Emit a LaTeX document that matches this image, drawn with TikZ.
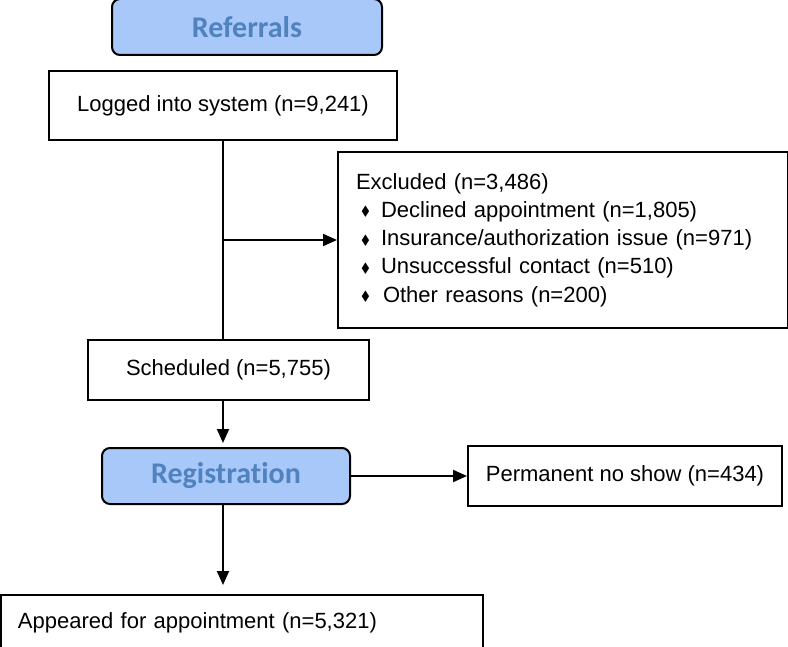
\documentclass[tikz,border=0pt]{standalone}
\usepackage{fontspec}
\usepackage{amssymb}
\setmainfont{Liberation Sans}
\newfontfamily\stagefont[Ligatures=NoCommon]{Carlito}
\usetikzlibrary{positioning,arrows.meta}

\definecolor{stagefill}{RGB}{168,200,250}
\definecolor{stagetext}{RGB}{80,130,190}
\newcommand{\dia}{\raisebox{0.8pt}{\scalebox{0.6}{$\blacklozenge$}}}
\newcommand{\reason}[1]{\hspace*{2.5pt}\makebox[10pt][l]{\dia}#1}

\tikzset{
  flowbox/.style={draw,rectangle,line width=1pt,inner sep=0pt,
    font=\fontsize{11}{14.15}\selectfont},
  stagebox/.style={draw,rectangle,rounded corners=4pt,line width=1pt,inner sep=0pt,
    fill=stagefill,text=stagetext,font=\stagefont\bfseries\fontsize{15}{18}\selectfont},
  flowarrow/.style={-{Triangle[length=7pt,width=6pt]},line width=1pt},
}

\begin{document}
\begin{tikzpicture}
    \useasboundingbox (0,0) rectangle (394pt,-323.5pt);

    \node[flowbox,minimum width=174pt,minimum height=34.5pt] (logged) at (111.5pt,-52.75pt) {\raisebox{2pt}{Logged into system (n=9,241)}};
    \node[stagebox,minimum width=135pt,minimum height=28pt,above=7pt of logged,xshift=12pt] (refer) {Referrals};

    \coordinate[below=49.5pt of logged] (split);
    \node[flowbox,minimum width=225pt,minimum height=88pt,text width=207pt,align=left,right=57pt of split] (excl) {Excluded (n=3,486)\\
      \reason{Declined appointment (n=1,805)}\\
      \reason{Insurance/authorization issue (n=971)}\\
      \reason{Unsuccessful contact (n=510)}\\
      \reason{\hspace{1pt}Other reasons (n=200)}};

    \node[flowbox,minimum width=140.5pt,minimum height=30pt,below=99pt of logged,xshift=2.75pt] (sched) {Scheduled (n=5,755)};
    \node[stagebox,minimum width=124pt,minimum height=28pt,below=23pt of sched,xshift=-1.25pt] (reg) {Registration};
    \node[flowbox,minimum width=157pt,minimum height=30pt,right=58pt of reg] (perm) {Permanent no show (n=434)};
    \node[flowbox,minimum width=241pt,minimum height=28pt,text width=224pt,align=left,below=44.5pt of reg,xshift=8pt] (appear) {Appeared for appointment (n=5,321)};

    % arrows
    \draw[line width=1pt] (logged) -- (logged |- sched.north);
    \draw[flowarrow] (split) -- (excl);
    \draw[flowarrow,shorten >=2pt] (sched.south -| logged) -- (reg.north -| logged);
    \draw[flowarrow] (reg) -- (perm);
    \draw[flowarrow,shorten >=4.5pt] (reg.south -| logged) -- (appear.north -| logged);

\end{tikzpicture}
\end{document}
